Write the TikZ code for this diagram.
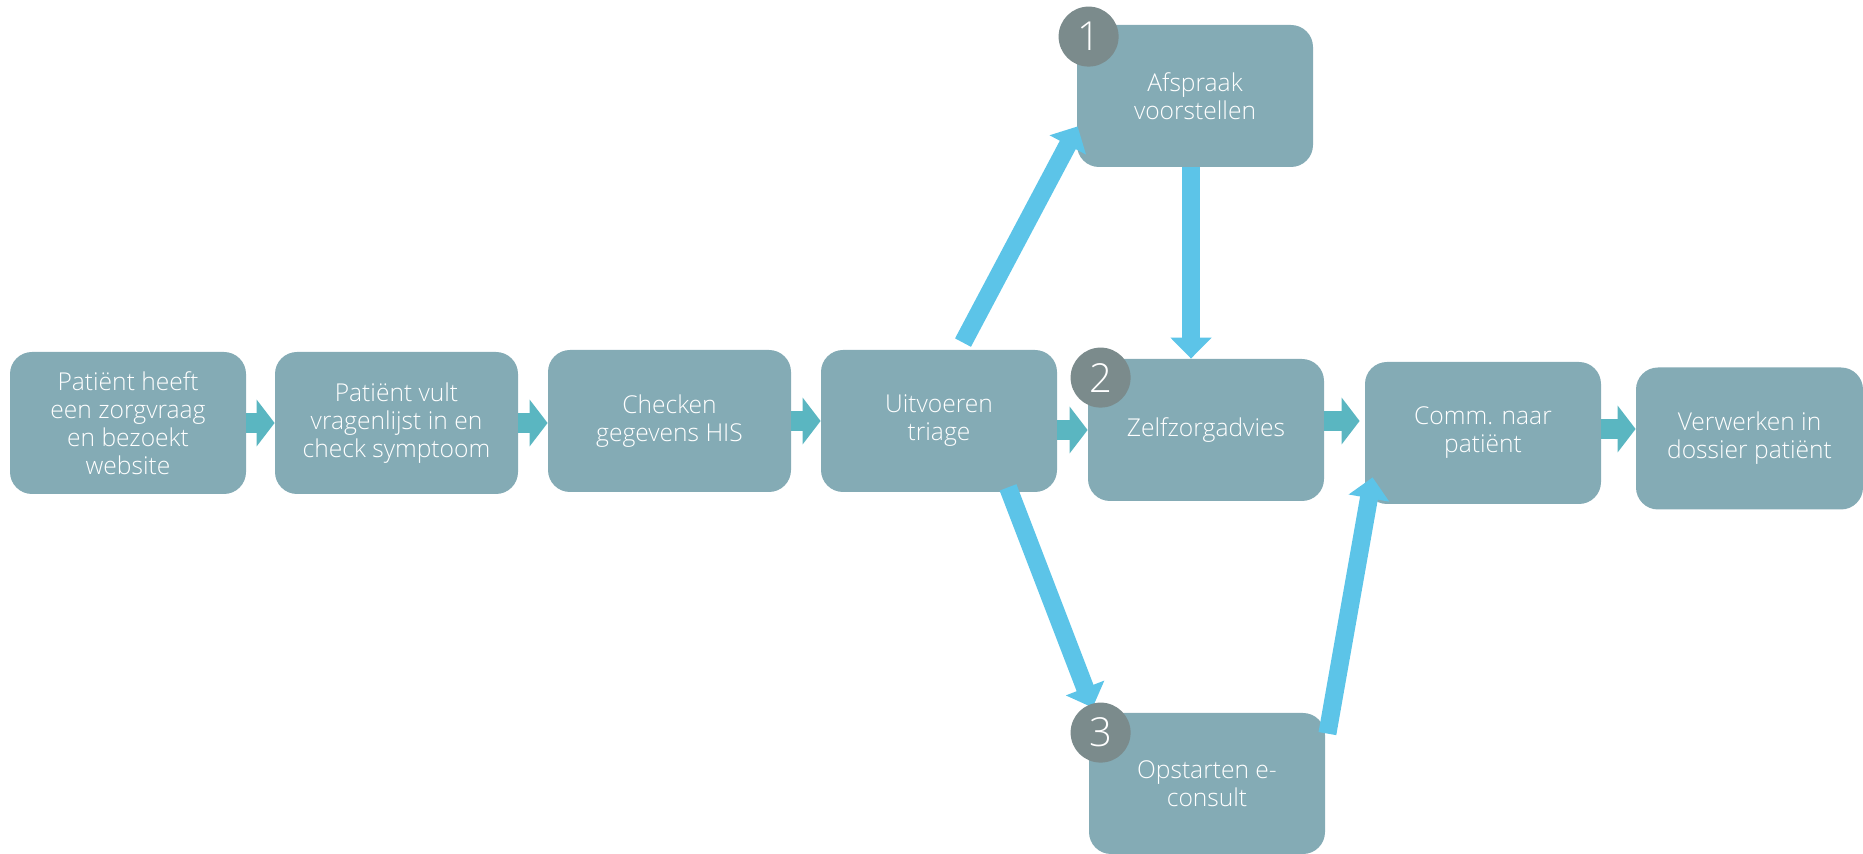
\documentclass[tikz,border=0pt]{standalone}
\usepackage{fontspec}
\setmainfont{Open Sans}[UprightFont=* Light]
\usetikzlibrary{arrows.meta,calc}
\definecolor{boxc}{HTML}{84ABB5}
\definecolor{numc}{HTML}{7B8B8C}
\definecolor{flowc}{HTML}{5AB6C1}
\definecolor{branchc}{HTML}{5CC4E8}
\begin{document}
\begin{tikzpicture}[x=0.5pt,y=-0.5pt,
  stepbox/.style={rounded corners=11pt, fill=boxc, text=white, align=center,
    minimum width=118pt, minimum height=71pt, inner sep=0pt,
    font=\fontsize{12.3}{14}\selectfont},
  numdot/.style={circle, fill=numc, text=white, minimum size=30pt, inner sep=0pt,
    font=\fontsize{20}{20}\selectfont},
  flow/.style={draw=flowc, line width=10pt, -{Triangle[length=9pt,width=23pt]}},
  branch/.style={draw=branchc, line width=9pt, -{Triangle[length=10.5pt,width=20pt]}}]
\useasboundingbox (0,0) rectangle (1863,854);

% main process steps
\node[stepbox] (patient) at (128,423) {Patiënt heeft\\een zorgvraag\\en bezoekt\\website};
\node[stepbox, minimum width=121.5pt] (vragen) at (396.5,423) {Patiënt vult\\vragenlijst in en\\check symptoom};
\node[stepbox, minimum width=121.5pt] (his) at (669.5,421) {Checken\\gegevens HIS};
\node[stepbox] (triage) at (939,421) {Uitvoeren\\triage};
\node[stepbox] (zelf) at (1206,430) {Zelfzorgadvies};
\node[stepbox] (comm) at (1483,433) {Comm. naar\\patiënt};
\node[stepbox, minimum width=113.5pt] (dossier) at (1749.5,438.5) {Verwerken in\\dossier patiënt};

% triage outcomes
\node[stepbox] (afspraak) at (1195,96) {Afspraak\\voorstellen};
\node[stepbox, minimum height=70.5pt] (econsult) at (1207,783.5) {Opstarten e-\\consult};

% flow arrows along the main line
\draw[flow] (patient.east) -- (patient.east -| vragen.west);
\draw[flow] (vragen.east) -- (vragen.east -| his.west);
\draw[flow] (his.east) -- (his.east -| triage.west);
\draw[flow] (triage.east |- zelf.west) -- (zelf.west);
\draw[flow] ($(zelf.east)+(0,-9)$) -- ($(zelf.east -| comm.west)+(-5,-9)$);
\draw[flow] ($(comm.east)+(0,-4)$) -- ($(comm.east -| dossier.west)+(0,-4)$);

% branch arrows
\coordinate (downtop) at ($(afspraak.south)+(-4,0)$);
\draw[branch] ($(triage.north)+(24,-7)$) -- ($(afspraak.south west)+(1,-41)$);
\draw[branch] (downtop) -- (downtop |- zelf.north);
\draw[branch] ($(triage.south)+(69,-5)$) -- ($(econsult.north west)+(4,-5)$);
\draw[branch] ($(econsult.north east)+(2,21)$) -- ($(comm.south west)+(8,-27)$);

% option numbers
\node[numdot] (n1) at ($(afspraak.north west)+(12,12)$) {1};
\node[numdot] (n2) at ($(zelf.north west)+(13,19)$) {2};
\node[numdot] (n3) at ($(econsult.north west)+(12,20)$) {3};
\end{tikzpicture}
\end{document}
